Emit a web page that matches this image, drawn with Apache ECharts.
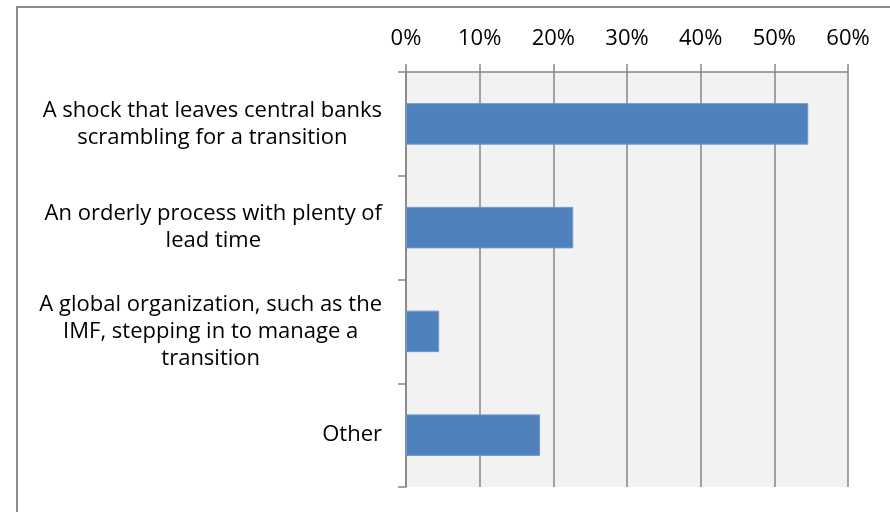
<!DOCTYPE html>
<html>
<head>
<meta charset="utf-8">
<script src="https://cdn.jsdelivr.net/npm/echarts@6/dist/echarts.min.js"></script>
<style>html,body{margin:0;padding:0;background:#fff}#c{width:890px;height:512px}</style>
</head>
<body>
<div id="c"></div>
<script>
var categories = [
  "A shock that leaves central banks\nscrambling for a transition",
  "An orderly process with plenty of\nlead time",
  "A global organization, such as the\nIMF, stepping in to manage a\ntransition",
  "Other"
];
var values = [54.6, 22.7, 4.5, 18.2];
var tickMax = 60;
var tickInterval = 10;

var FONT = "Open Sans";
var FS = 22;
var chart = echarts.init(document.getElementById('c'), null, {renderer: 'canvas'});
chart.setOption({
  animation: false,
  backgroundColor: '#ffffff',
  grid: {
    left: 406, right: 42, top: 72, bottom: 25,
    show: true, backgroundColor: '#f2f2f2', borderWidth: 0
  },
  graphic: [{
    type: 'rect',
    shape: {x: 17, y: 7, width: 900, height: 600},
    style: {fill: 'none', stroke: '#8c8c8c', lineWidth: 2},
    z: 100
  }],
  xAxis: {
    type: 'value',
    position: 'top',
    min: 0, max: tickMax, interval: tickInterval,
    axisLine: {show: true, lineStyle: {color: '#868686', width: 1.5}},
    axisTick: {show: true, length: 8, inside: false, lineStyle: {color: '#868686', width: 1.5}},
    splitLine: {show: true, lineStyle: {color: '#868686', width: 1.5}},
    axisLabel: {
      formatter: '{value}%', margin: 22,
      color: '#000', fontFamily: FONT, fontSize: FS
    }
  },
  yAxis: {
    type: 'category',
    inverse: true,
    data: categories,
    axisLine: {show: true, lineStyle: {color: '#868686', width: 1.5}},
    axisTick: {show: true, length: 8, inside: false, alignWithLabel: false, lineStyle: {color: '#868686', width: 1.5}},
    splitLine: {show: false},
    axisLabel: {
      margin: 24,
      align: 'right',
      color: '#000', fontFamily: FONT, fontSize: FS,
      formatter: function (v) {
        return v.split('\n').map(function (l) { return '{c|' + l + '}'; }).join('\n');
      },
      rich: {
        c: {align: 'center', fontFamily: FONT, fontSize: FS, lineHeight: 27, color: '#000'}
      }
    }
  },
  series: [{
    type: 'bar',
    data: values,
    barCategoryGap: '60%',
    itemStyle: {color: '#4f81bd', borderColor: '#6f98cc', borderWidth: 1}
  }]
});
</script>
</body>
</html>
